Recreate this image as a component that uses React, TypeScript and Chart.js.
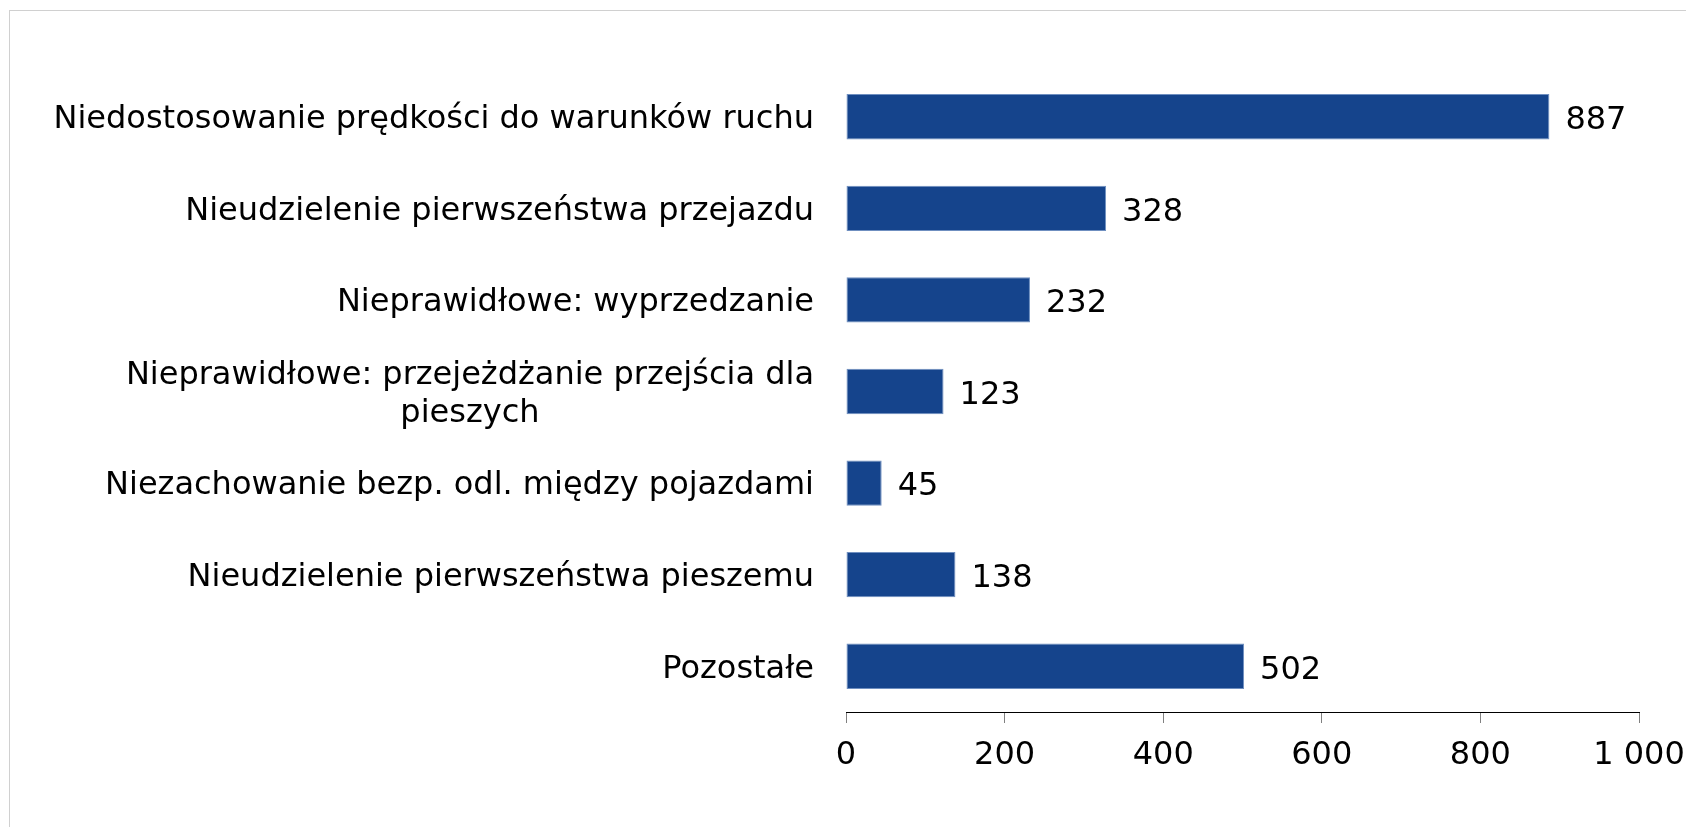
import React, { useEffect, useRef } from "react";
import { Chart, registerables } from "chart.js";

Chart.register(...registerables);

const categories: string[][] = [
  ["Niedostosowanie prędkości do warunków ruchu"],
  ["Nieudzielenie pierwszeństwa przejazdu"],
  ["Nieprawidłowe: wyprzedzanie"],
  ["Nieprawidłowe: przejeżdżanie przejścia dla", "pieszych"],
  ["Niezachowanie bezp. odl. między pojazdami"],
  ["Nieudzielenie pierwszeństwa pieszemu"],
  ["Pozostałe"],
];
const values: number[] = [887, 328, 232, 123, 45, 138, 502];
const xTickValues: number[] = [0, 200, 400, 600, 800, 1000];
const xTickLabels: string[] = ["0", "200", "400", "600", "800", "1 000"];

const FONT = '"DejaVu Sans", Verdana, sans-serif';
const FONT_SIZE = 32;

const labelsPlugin = {
  id: "customLabels",
  afterDatasetsDraw(chart: any) {
    const ctx = chart.ctx as CanvasRenderingContext2D;
    const xs = chart.scales.x;
    const ys = chart.scales.y;
    ctx.save();
    ctx.font = `${FONT_SIZE}px ${FONT}`;
    ctx.fillStyle = "#000";
    ctx.textBaseline = "middle";
    const lineH = FONT_SIZE * 1.2;
    const rightEdge = chart.chartArea.left - 32;
    categories.forEach((lines, i) => {
      const cy = ys.getPixelForValue(i) + 3;
      const widths = lines.map((l) => ctx.measureText(l).width);
      const maxW = Math.max(...widths);
      const cx = rightEdge - maxW / 2;
      ctx.textAlign = "center";
      lines.forEach((l, j) => {
        const y = cy + (j - (lines.length - 1) / 2) * lineH;
        ctx.fillText(l, cx, y);
      });
    });
    ctx.textAlign = "left";
    values.forEach((v, i) => {
      const cy = ys.getPixelForValue(i) + 4;
      const x = xs.getPixelForValue(v) + 16;
      ctx.fillText(String(v), x, cy);
    });
    ctx.restore();
  },
};

export default function App() {
  const ref = useRef<HTMLCanvasElement | null>(null);
  useEffect(() => {
    if (!ref.current) return;
    const chart = new Chart(ref.current, {
      type: "bar",
      data: {
        labels: categories.map((c) => c.join(" ")),
        datasets: [
          {
            data: values,
            backgroundColor: "#15448C",
            borderColor: "#6f8fc0",
            borderWidth: 1,
            borderSkipped: false,
            categoryPercentage: 1,
            barPercentage: 0.495,
          },
        ],
      },
      options: {
        indexAxis: "y",
        responsive: false,
        animation: false,
        devicePixelRatio: 1,
        layout: { padding: { left: 846, right: 47, top: 71, bottom: 0 } },
        plugins: {
          legend: { display: false },
          tooltip: { enabled: false },
          title: { display: false },
        },
        scales: {
          x: {
            min: 0,
            max: 1000,
            afterBuildTicks: (axis: any) => {
              axis.ticks = xTickValues.map((v) => ({ value: v }));
            },
            afterFit: (axis: any) => {
              axis.height = 115;
              axis.paddingRight = 0;
              axis.paddingLeft = 0;
            },
            ticks: {
              callback: (v: any) => {
                const idx = xTickValues.indexOf(Number(v));
                return idx >= 0 ? xTickLabels[idx] : "";
              },
              color: "#000",
              font: { family: FONT, size: FONT_SIZE },
              padding: 13,
              maxRotation: 0,
              autoSkip: false,
            },
            grid: {
              drawOnChartArea: false,
              drawTicks: true,
              tickLength: 11,
              color: "#808080",
              lineWidth: 1,
            },
            border: { display: true, color: "#000", width: 1 },
          },
          y: {
            display: false,
            grid: { display: false },
          },
        },
      },
      plugins: [labelsPlugin],
    });
    return () => chart.destroy();
  }, []);
  return (
    <div
      style={{
        position: "fixed",
        left: 0,
        top: 0,
        width: 1686,
        height: 827,
        background: "#fff",
        overflow: "hidden",
      }}
    >
      <div
        style={{
          position: "absolute",
          left: 9,
          top: 10,
          width: 1800,
          height: 900,
          borderLeft: "1px solid #d0d0d0",
          borderTop: "1px solid #d0d0d0",
        }}
      />
      <canvas
        ref={ref}
        width={1686}
        height={827}
        style={{ position: "absolute", left: 0, top: 0 }}
      />
    </div>
  );
}
